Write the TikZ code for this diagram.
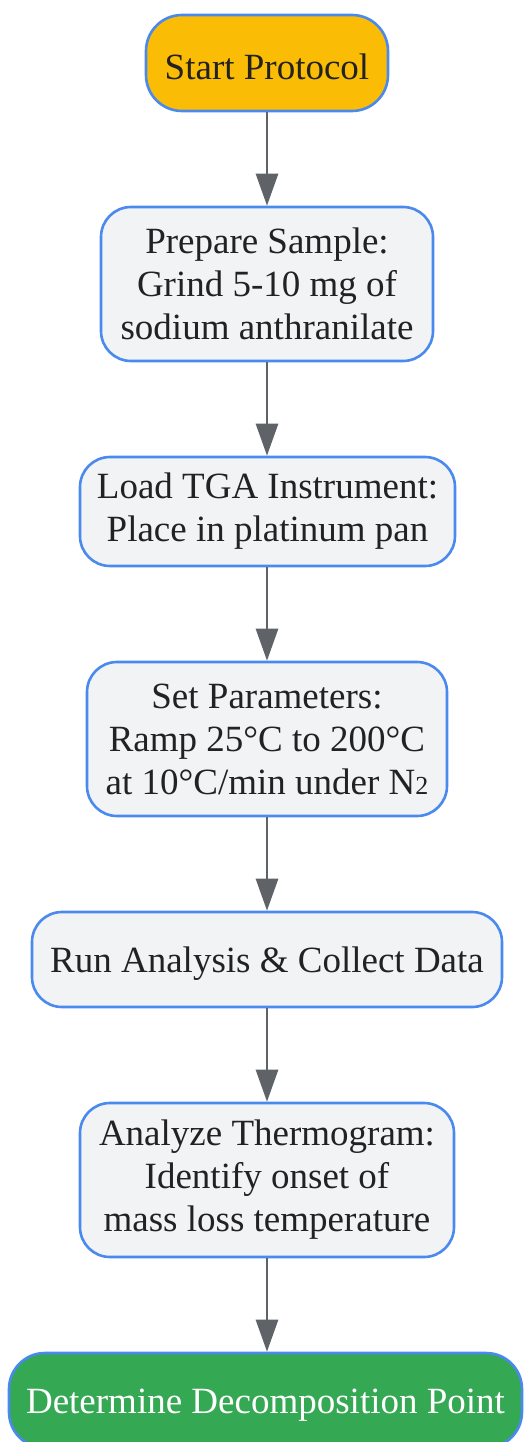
\documentclass[tikz,border=0pt]{standalone}
\usepackage{fontspec}
\setmainfont{Liberation Serif}
\usetikzlibrary{arrows.meta,positioning}
\definecolor{boxfill}{HTML}{F1F3F5}
\definecolor{boxline}{HTML}{4A89EE}
\definecolor{startfill}{HTML}{FBBC05}
\definecolor{endfill}{HTML}{34A853}
\definecolor{arrowgray}{HTML}{5F6368}
\definecolor{textdark}{HTML}{222222}
\newcommand{\subtwo}{{\fontsize{26}{26}\selectfont 2}}
\tikzset{
  flowbox/.style={draw=boxline, line width=2.6pt, fill=boxfill, rounded corners=30pt,
    align=center, text=textdark, font=\fontsize{37}{43}\selectfont, inner sep=0pt,
    execute at begin node={\rule{0pt}{34pt}}},
  startbox/.style={flowbox, fill=startfill, rounded corners=36pt},
  endbox/.style={flowbox, fill=endfill, text=white, rounded corners=36pt},
  flowarrow/.style={draw=arrowgray, line width=2.8pt, -{Triangle[length=32pt,width=22pt]}}
}
\begin{document}
\begin{tikzpicture}[x=1pt,y=1pt]
\useasboundingbox[fill=white] (0,0) rectangle (523,-1442);
\node[startbox, minimum width=242pt, minimum height=96pt] (start) at (267,-63) {Start Protocol};
\node[flowbox, minimum width=332pt, minimum height=154pt] (prep) at (267,-284) {Prepare Sample:\\Grind 5-10 mg of\\sodium anthranilate};
\node[flowbox, minimum width=375pt, minimum height=109pt] (load) at (267.5,-511.5) {Load TGA Instrument:\\Place in platinum pan};
\node[flowbox, minimum width=360pt, minimum height=154pt] (set) at (267,-739) {Set Parameters:\\Ramp 25°C to 200°C\\at 10°C/min under N\subtwo};
\node[flowbox, minimum width=470pt, minimum height=95pt] (run) at (267,-959.5) {Run Analysis \& Collect Data};
\node[flowbox, minimum width=374pt, minimum height=154pt] (anal) at (267,-1180) {Analyze Thermogram:\\Identify onset of\\mass loss temperature};
\node[endbox, minimum width=513pt, minimum height=95pt] (det) at (265.5,-1400.5) {Determine Decomposition Point};
\draw[flowarrow] (start.south -| 267,0) -- (prep.north -| 267,0);
\draw[flowarrow] (prep.south -| 267,0) -- (load.north -| 267,0);
\draw[flowarrow] (load.south -| 267,0) -- (set.north -| 267,0);
\draw[flowarrow] (set.south -| 267,0) -- (run.north -| 267,0);
\draw[flowarrow] (run.south -| 267,0) -- (anal.north -| 267,0);
\draw[flowarrow] (anal.south -| 267,0) -- (det.north -| 267,0);
\end{tikzpicture}
\end{document}
